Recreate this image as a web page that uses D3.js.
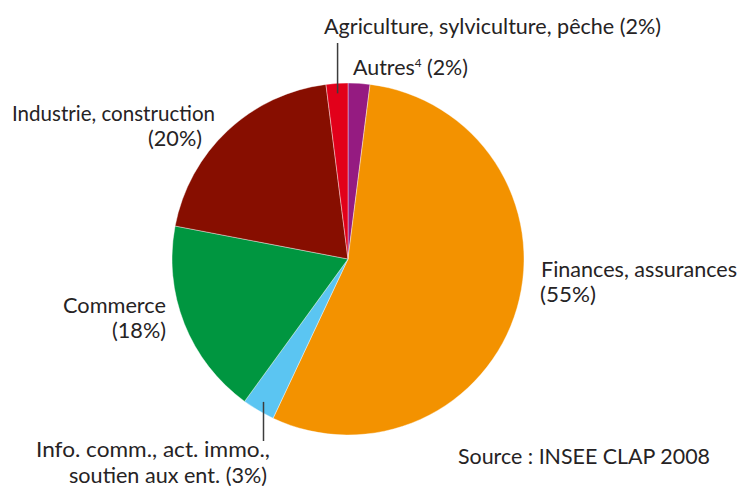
<!DOCTYPE html>
<html>
<head>
<meta charset="utf-8">
<script src="https://cdn.jsdelivr.net/npm/d3@7"></script>
<style>
  html, body { margin: 0; padding: 0; background: #ffffff; }
  svg { display: block; }
  text { font-family: Lato, "Open Sans", sans-serif; fill: #262324; }
</style>
</head>
<body>
<svg id="chart" width="742" height="486"></svg>
<script>
// ---- data (clockwise from 12 o'clock) ----
const categories = [
  "Autres",
  "Finances, assurances",
  "Info. comm., act. immo., soutien aux ent.",
  "Commerce",
  "Industrie, construction",
  "Agriculture, sylviculture, pêche"
];
const shares = [2, 55, 3, 18, 20, 2];
const sliceColors = ["#951b81", "#f39200", "#5bc5f2", "#009640", "#870e00", "#e2001a"];
const sourceNote = "Source : INSEE CLAP 2008";

// ---- layout ----
const cx = 348, cy = 259, R = 176;

const svg = d3.select("#chart");
const g = svg.append("g").attr("transform", `translate(${cx},${cy})`);

const pie = d3.pie().sort(null).value(d => d);
const arcs = pie(shares);
const arc = d3.arc().innerRadius(0).outerRadius(R);

g.selectAll("path.slice")
  .data(arcs)
  .join("path")
  .attr("class", "slice")
  .attr("d", arc)
  .attr("fill", (d, i) => sliceColors[i])
  .attr("stroke", "#ffffff")
  .attr("stroke-width", 0.4)
  .attr("stroke-linejoin", "round");

// ---- leader lines (derived from slice mid-angles) ----
const leaderArc = d3.arc().innerRadius(166).outerRadius(166);
function midPoint(i) { return leaderArc.centroid(arcs[i]); }
{
  const p = midPoint(5); // Agriculture
  g.append("line")
    .attr("x1", p[0]).attr("y1", p[1])
    .attr("x2", p[0]).attr("y2", 43 - cy)
    .attr("stroke", "#3c3c3c").attr("stroke-width", 1.5);
}
{
  const p = midPoint(2); // Info. comm.
  g.append("line")
    .attr("x1", p[0]).attr("y1", p[1])
    .attr("x2", p[0]).attr("y2", 441 - cy)
    .attr("stroke", "#3c3c3c").attr("stroke-width", 1.5);
}

// ---- labels ----
const pct = i => `(${shares[i]}%)`;
const labelLines = [
  { t: `Agriculture, sylviculture, pêche ${pct(5)}`, x: 324, y: 34, w: 337, fs: 22 },
  { t: "Industrie, construction", x: 12, y: 120.5, w: 203, fs: 21 },
  { t: pct(4), x: 148, y: 145.5, w: 54, fs: 21 },
  { t: "Commerce", x: 63, y: 313, w: 103, fs: 22 },
  { t: pct(3), x: 112, y: 338, w: 54, fs: 22 },
  { t: "Finances, assurances", x: 541, y: 277, w: 196, fs: 22 },
  { t: pct(1), x: 540, y: 302, w: 56, fs: 22 },
  { t: "Info. comm., act. immo.,", x: 36, y: 457, w: 234, fs: 22 },
  { t: `soutien aux ent. ${pct(2)}`, x: 69, y: 482.5, w: 198, fs: 22 },
  { t: sourceNote, x: 458, y: 464, w: 252, fs: 22 }
];

svg.selectAll("text.lbl")
  .data(labelLines)
  .join("text")
  .attr("class", "lbl")
  .attr("x", d => d.x)
  .attr("y", d => d.y)
  .attr("font-size", d => d.fs)
  .attr("textLength", d => d.w)
  .attr("lengthAdjust", "spacingAndGlyphs")
  .text(d => d.t);

// Autres with superscript
const at = svg.append("text")
  .attr("x", 353).attr("y", 75)
  .attr("font-size", 22);
at.append("tspan").text("Autres");
at.append("tspan").attr("font-size", 12).attr("dy", -8).text("4");
at.append("tspan").attr("dy", 8).text(" " + pct(0));
{
  const len = at.node().getComputedTextLength();
  const target = 115;
  at.attr("transform", `translate(353,0) scale(${target / len},1) translate(-353,0)`);
}
</script>
</body>
</html>
